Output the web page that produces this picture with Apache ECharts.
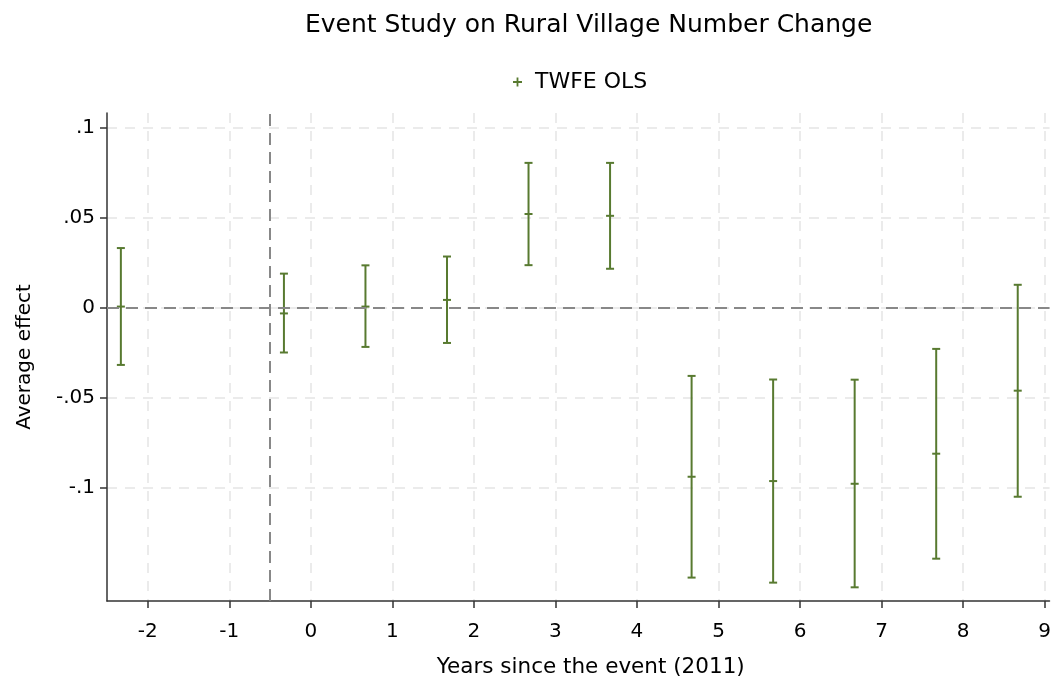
<!DOCTYPE html>
<html><head><meta charset="utf-8">
<script src="https://cdn.jsdelivr.net/npm/echarts@6/dist/echarts.min.js"></script>
<style>html,body{margin:0;padding:0;background:#fff}#c{width:1054px;height:683px}</style>
</head><body><div id="c"></div>
<script>
// Data
const periods   = [-2.33, -0.33, 0.67, 1.67, 2.67, 3.67, 4.67, 5.67, 6.67, 7.67, 8.67];
const estimates = [0.0005, -0.0033, 0.0005, 0.0042, 0.0519, 0.0509, -0.0940, -0.0964, -0.0979, -0.0812, -0.0462];
const lowerCI   = [-0.0319, -0.0250, -0.0219, -0.0197, 0.0235, 0.0215, -0.1500, -0.1528, -0.1554, -0.1395, -0.1051];
const upperCI   = [0.0330, 0.0188, 0.0234, 0.0283, 0.0803, 0.0803, -0.0380, -0.0400, -0.0401, -0.0230, 0.0126];
const xTickValues = [-2, -1, 0, 1, 2, 3, 4, 5, 6, 7, 8, 9];
const yTickValues = [-0.1, -0.05, 0, 0.05, 0.1];
const yTickLabels = ['-.1', '-.05', '0', '.05', '.1'];
const eventLine = -0.5;

const green = '#587a30';
const font = 'DejaVu Sans, Liberation Sans, Arial, sans-serif';

const data = periods.map((p, i) => [p, lowerCI[i], upperCI[i], estimates[i]]);

const chart = echarts.init(document.getElementById('c'), null, {renderer: 'canvas'});
chart.setOption({
  backgroundColor: '#fff',
  animation: false,
  title: {
    text: 'Event Study on Rural Village Number Change',
    left: 300, top: 8,
    textStyle: {fontFamily: font, fontSize: 25, fontWeight: 'normal', color: '#000'}
  },
  legend: {
    left: 508, top: 66,
    itemWidth: 17, itemHeight: 9, itemGap: 8,
    textStyle: {fontFamily: font, fontSize: 22, color: '#000', padding: [0, 0, 0, 4]},
    data: [{name: 'TWFE OLS', icon: 'path://M4,0L6,0L6,4L10,4L10,6L6,6L6,10L4,10L4,6L0,6L0,4L4,4Z', itemStyle: {color: green}}]
  },
  grid: {left: 107, right: 0, top: 113, bottom: 75, containLabel: false},
  xAxis: {
    type: 'value', min: -2.5, max: 9.06,
    name: 'Years since the event (2011)', nameLocation: 'middle', nameGap: 55,
    nameTextStyle: {fontFamily: font, fontSize: 21.5, color: '#000', padding: [0, 0, 0, 25]},
    axisLine: {show: true, onZero: false, lineStyle: {color: '#333', width: 1.5}},
    axisTick: {show: true, length: 7, customValues: xTickValues, lineStyle: {color: '#333', width: 1.5}},
    axisLabel: {customValues: xTickValues, fontFamily: font, fontSize: 20, color: '#000', margin: 21},
    splitLine: {show: true, lineStyle: {color: '#ebebeb', width: 2, type: [10, 8]}}
  },
  yAxis: {
    type: 'value', min: -0.163, max: 0.108,
    name: 'Average effect', nameLocation: 'middle', nameGap: 72, nameRotate: 90,
    nameTextStyle: {fontFamily: font, fontSize: 20, color: '#000'},
    axisLine: {show: true, onZero: false, lineStyle: {color: '#333', width: 1.5}},
    axisTick: {show: true, length: 7, customValues: yTickValues, lineStyle: {color: '#333', width: 1.5}},
    axisLabel: {
      customValues: yTickValues, fontFamily: font, fontSize: 20, color: '#000', margin: 12,
      formatter: v => { const i = yTickValues.findIndex(t => Math.abs(t - v) < 1e-9); return i >= 0 ? yTickLabels[i] : ''; }
    },
    splitLine: {show: true, lineStyle: {color: '#ebebeb', width: 2, type: [10, 8]}}
  },
  series: [{
    name: 'TWFE OLS',
    type: 'custom',
    data: data,
    encode: {x: 0, y: [1, 2, 3]},
    itemStyle: {color: green},
    renderItem: function (params, api) {
      const x = api.value(0);
      const lo = api.coord([x, api.value(1)]);
      const hi = api.coord([x, api.value(2)]);
      const est = api.coord([x, api.value(3)]);
      const w = 4;
      const st = {stroke: green, lineWidth: 2};
      return {
        type: 'group',
        children: [
          {type: 'line', shape: {x1: lo[0], y1: lo[1], x2: hi[0], y2: hi[1]}, style: st},
          {type: 'line', shape: {x1: lo[0] - w, y1: lo[1], x2: lo[0] + w, y2: lo[1]}, style: st},
          {type: 'line', shape: {x1: hi[0] - w, y1: hi[1], x2: hi[0] + w, y2: hi[1]}, style: st},
          {type: 'line', shape: {x1: est[0] - w, y1: est[1], x2: est[0] + w, y2: est[1]}, style: st}
        ]
      };
    },
    markLine: {
      silent: true, symbol: 'none', label: {show: false},
      lineStyle: {color: '#888', width: 2, type: [12, 7]},
      data: [{yAxis: 0}, {xAxis: eventLine}]
    },
    z: 3
  }]
});
</script></body></html>
